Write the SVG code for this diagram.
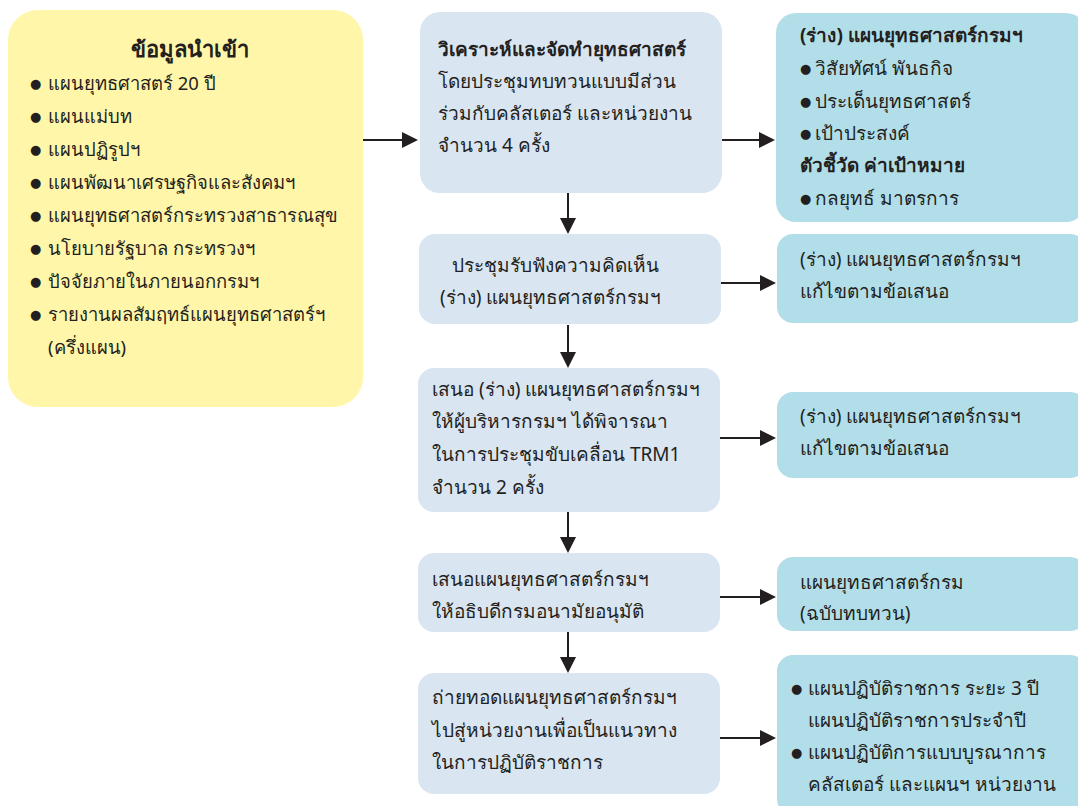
<svg xmlns="http://www.w3.org/2000/svg" width="1078" height="806" viewBox="0 0 1078 806">
<defs>
<marker id="ah" markerUnits="userSpaceOnUse" markerWidth="16" markerHeight="16" refX="14" refY="8" orient="auto">
<path d="M0,0 L16,8 L0,16 Z" fill="#231f20"/>
</marker>
</defs>
<style>
text{font-family:"Noto Sans","DejaVu Sans",sans-serif;font-size:19px;fill:#231f20}
.s{font-size:18.4px}
.d{font-size:13px}
.b{font-weight:bold}
.y{fill:#fff6a9}
.l{fill:#d9e5f1}
.t{fill:#b2dee9}
.c{stroke:#231f20;stroke-width:2;fill:none;marker-end:url(#ah)}
</style>
<rect width="1078" height="806" fill="#ffffff"/>
<g id="input">
<rect class="y" x="8" y="10" width="355" height="397" rx="30"/>
<text class="b" x="190" y="57" text-anchor="middle" style="font-size:22px">ข้อมูลนำเข้า</text>
<text class="d" x="30" y="88">●</text><text class="s" x="48" y="90">แผนยุทธศาสตร์ 20 ปี</text>
<text class="d" x="30" y="121">●</text><text class="s" x="48" y="123">แผนแม่บท</text>
<text class="d" x="30" y="154">●</text><text class="s" x="48" y="156">แผนปฏิรูปฯ</text>
<text class="d" x="30" y="187">●</text><text class="s" x="48" y="189">แผนพัฒนาเศรษฐกิจและสังคมฯ</text>
<text class="d" x="30" y="220">●</text><text class="s" x="48" y="222">แผนยุทธศาสตร์กระทรวงสาธารณสุข</text>
<text class="d" x="30" y="253">●</text><text class="s" x="48" y="255">นโยบายรัฐบาล กระทรวงฯ</text>
<text class="d" x="30" y="286">●</text><text class="s" x="48" y="288">ปัจจัยภายในภายนอกกรมฯ</text>
<text class="d" x="30" y="319">●</text><text class="s" x="48" y="321">รายงานผลสัมฤทธ์แผนยุทธศาสตร์ฯ</text>
<text class="s" x="48" y="354">(ครึ่งแผน)</text>
</g>
<g id="analyze">
<rect class="l" x="420" y="12" width="302" height="181" rx="20"/>
<text class="b" x="438" y="56">วิเคราะห์และจัดทำยุทธศาสตร์</text>
<text x="438" y="88">โดยประชุมทบทวนแบบมีส่วน</text>
<text x="438" y="120">ร่วมกับคลัสเตอร์ และหน่วยงาน</text>
<text x="438" y="152">จำนวน 4 ครั้ง</text>
</g>
<g id="draft">
<rect class="t" x="776" y="13" width="310" height="209" rx="20"/>
<text class="b" x="800" y="42">(ร่าง) แผนยุทธศาสตร์กรมฯ</text>
<text class="d" x="800" y="73">●</text><text x="815" y="75">วิสัยทัศน์ พันธกิจ</text>
<text class="d" x="800" y="106">●</text><text x="815" y="108">ประเด็นยุทธศาสตร์</text>
<text class="d" x="800" y="138">●</text><text x="815" y="140">เป้าประสงค์</text>
<text class="b" x="800" y="172">ตัวชี้วัด ค่าเป้าหมาย</text>
<text class="d" x="800" y="203">●</text><text x="815" y="205">กลยุทธ์ มาตรการ</text>
</g>
<g id="hearing">
<rect class="l" x="419" y="234" width="302" height="90" rx="16"/>
<text x="452" y="272">ประชุมรับฟังความคิดเห็น</text>
<text x="440" y="304">(ร่าง) แผนยุทธศาสตร์กรมฯ</text>
</g>
<g id="revise1">
<rect class="t" x="777" y="234" width="309" height="89" rx="16"/>
<text x="800" y="266">(ร่าง) แผนยุทธศาสตร์กรมฯ</text>
<text x="800" y="298">แก้ไขตามข้อเสนอ</text>
</g>
<g id="propose">
<rect class="l" x="418" y="368" width="302" height="144" rx="16"/>
<text x="432" y="396">เสนอ (ร่าง) แผนยุทธศาสตร์กรมฯ</text>
<text x="432" y="428">ให้ผู้บริหารกรมฯ ได้พิจารณา</text>
<text x="432" y="461">ในการประชุมขับเคลื่อน TRM1</text>
<text x="432" y="494">จำนวน 2 ครั้ง</text>
</g>
<g id="revise2">
<rect class="t" x="777" y="392" width="309" height="86" rx="16"/>
<text x="800" y="423">(ร่าง) แผนยุทธศาสตร์กรมฯ</text>
<text x="800" y="455">แก้ไขตามข้อเสนอ</text>
</g>
<g id="approve">
<rect class="l" x="418" y="553" width="302" height="79" rx="16"/>
<text x="432" y="586">เสนอแผนยุทธศาสตร์กรมฯ</text>
<text x="432" y="618">ให้อธิบดีกรมอนามัยอนุมัติ</text>
</g>
<g id="final">
<rect class="t" x="777" y="557" width="309" height="74" rx="16"/>
<text x="800" y="589">แผนยุทธศาสตร์กรม</text>
<text x="800" y="620">(ฉบับทบทวน)</text>
</g>
<g id="deploy">
<rect class="l" x="418" y="673" width="302" height="121" rx="16"/>
<text x="432" y="704">ถ่ายทอดแผนยุทธศาสตร์กรมฯ</text>
<text x="432" y="737">ไปสู่หน่วยงานเพื่อเป็นแนวทาง</text>
<text x="432" y="769">ในการปฏิบัติราชการ</text>
</g>
<g id="plans">
<rect class="t" x="777" y="655" width="309" height="160" rx="16"/>
<text class="d" x="791" y="693">●</text><text x="808" y="695">แผนปฏิบัติราชการ ระยะ 3 ปี</text>
<text x="808" y="727">แผนปฏิบัติราชการประจำปี</text>
<text class="d" x="791" y="757">●</text><text x="808" y="759">แผนปฏิบัติการแบบบูรณาการ</text>
<text x="808" y="791">คลัสเตอร์ และแผนฯ หน่วยงาน</text>
</g>
<g id="connectors">
<line class="c" x1="363" y1="140" x2="416" y2="140"/>
<line class="c" x1="722" y1="140" x2="773" y2="140"/>
<line class="c" x1="568" y1="193" x2="568" y2="232"/>
<line class="c" x1="721" y1="283" x2="774" y2="283"/>
<line class="c" x1="568" y1="325" x2="568" y2="366"/>
<line class="c" x1="720" y1="438" x2="774" y2="438"/>
<line class="c" x1="568" y1="512" x2="568" y2="551"/>
<line class="c" x1="720" y1="597" x2="774" y2="597"/>
<line class="c" x1="568" y1="632" x2="568" y2="671"/>
<line class="c" x1="720" y1="738" x2="774" y2="738"/>
</g>
</svg>
